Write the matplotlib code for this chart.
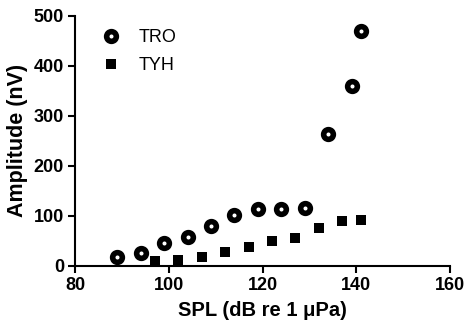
import matplotlib
matplotlib.use("Agg")
import matplotlib.pyplot as plt

plt.rcParams["font.family"] = ["Liberation Sans", "DejaVu Sans"]

tro_spl = [89, 94, 99, 104, 109, 114, 119, 124, 129, 134, 139, 141]
tro_amp = [17, 25, 45, 57, 79, 101, 113, 113, 116, 264, 359, 469]
tyh_spl = [97, 102, 107, 112, 117, 122, 127, 132, 137, 141]
tyh_amp = [10, 12, 17, 27, 37, 49, 55, 75, 89, 92]

fig = plt.figure(figsize=(4.66, 3.30), dpi=100)
ax = fig.add_axes([0.161, 0.194, 0.805, 0.758])

ax.plot(tro_spl, tro_amp, "o", ms=7, mfc="white", mec="black", mew=4,
        ls="none", label="TRO")
ax.plot(tyh_spl, tyh_amp, "s", ms=7.8, color="black", mew=0, ls="none",
        label="TYH")

ax.set_xlim(80, 160)
ax.set_ylim(0, 500)
ax.set_xticks([80, 100, 120, 140, 160])
ax.set_yticks([0, 100, 200, 300, 400, 500])
for s in ["top", "right"]:
    ax.spines[s].set_visible(False)
for s in ["left", "bottom"]:
    ax.spines[s].set_linewidth(1.5)
ax.tick_params(width=1.5, length=5, labelsize=13, pad=3)
for lab in ax.get_xticklabels() + ax.get_yticklabels():
    lab.set_fontweight("bold")
ax.set_xlabel("SPL (dB re 1 \u03bcPa)", fontsize=14.5, fontweight="bold", labelpad=5)
ax.set_ylabel("Amplitude (nV)", fontsize=15.5, fontweight="bold", labelpad=4)

ax.legend(loc="upper left", bbox_to_anchor=(0.02, 0.99), frameon=False,
          fontsize=13, handletextpad=0.5, labelspacing=0.62, borderaxespad=0.2)

fig.savefig("out.png", dpi=100)
